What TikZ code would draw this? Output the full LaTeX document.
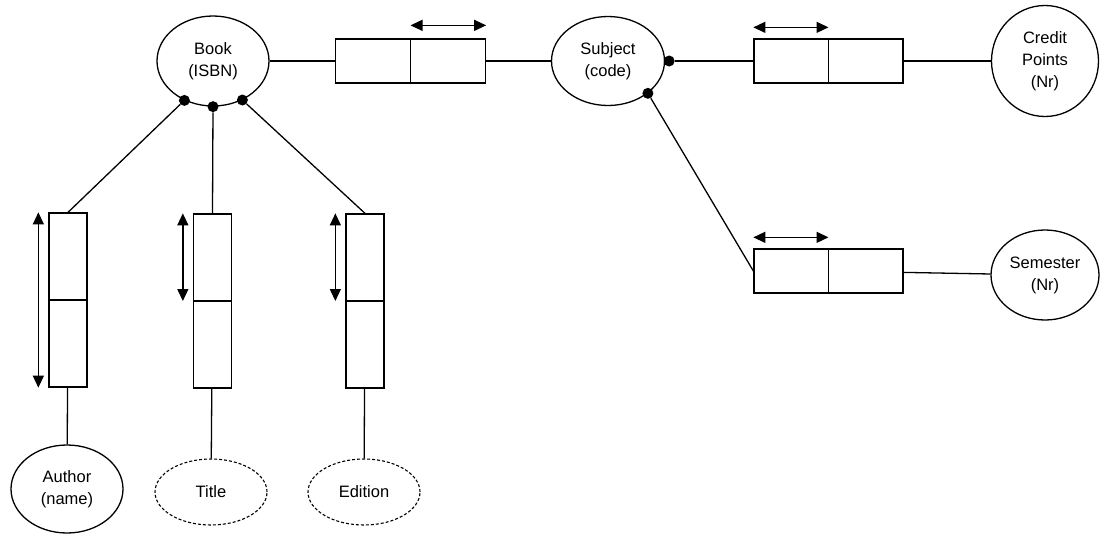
\documentclass[tikz,border=0pt]{standalone}
\usepackage{fontspec}
\setmainfont{Liberation Sans}
\usepackage{tikz}
\usetikzlibrary{shapes.geometric, arrows.meta}
\tikzstyle{attr} = [ellipse, draw=black, line width=1.3pt, inner sep=0pt, minimum width=112pt, minimum height=90pt, align=center, font=\fontsize{16.5}{22}\selectfont]
\tikzstyle{optattr} = [attr, line width=1.1pt, dash pattern=on 3pt off 2pt, minimum height=66pt]
\tikzstyle{hbox} = [rectangle, draw=black, line width=1.3pt, minimum width=150pt, minimum height=44pt]
\tikzstyle{vbox} = [rectangle, draw=black, line width=1.3pt, minimum width=38pt, minimum height=174pt]
\tikzstyle{dot} = [circle, fill=black, inner sep=0pt, minimum size=11pt]
\tikzstyle{conn} = [line width=1.3pt]
\tikzstyle{dbl} = [line width=1.3pt, {Triangle[length=12pt,width=11pt]}-{Triangle[length=12pt,width=11pt]}]

\begin{document}
\begin{tikzpicture}[x=1pt, y=-1pt]
	\useasboundingbox (0,0) rectangle (1100,533);
	% attributes
	\node (book) [attr] at (213,61) {Book\\(ISBN)};
	\node (subject) [attr, minimum width=113pt, minimum height=89pt] at (608,61) {Subject\\(code)};
	\node (credit) [attr, minimum width=107pt, minimum height=111pt] at (1045,61) {Credit\\Points\\(Nr)};
	\node (semester) [attr, minimum width=108pt] at (1045,275) {Semester\\(Nr)};
	\node (author) [attr, minimum height=88pt] at (67,489) {Author\\(name)};
	\node (title) [optattr] at (211,492) {Title};
	\node (edition) [optattr] at (364,492) {Edition};
	% fact boxes
	\node (bookSubj) [hbox] at (410.5,61) {};
	\node (subjCredit) [hbox, minimum width=149pt] at (828.5,61) {};
	\node (subjSem) [hbox, minimum width=149pt] at (828.5,271) {};
	\node (authorBox) [vbox] at (68,300) {};
	\node (titleBox) [vbox] at (212.5,301) {};
	\node (editionBox) [vbox] at (365,301) {};
	\foreach \b in {bookSubj, subjCredit, subjSem}
		\draw [conn] (\b.north) -- (\b.south);
	\foreach \b in {authorBox, titleBox, editionBox}
		\draw [conn] (\b.west) -- (\b.east);
	% dots
	\node (bookD1) [dot] at (book.-126) {};
	\node (bookD2) [dot] at (book.-90) {};
	\node (bookD3) [dot] at (book.-53) {};
	\node (subjD1) [dot] at ([xshift=4pt]subject.east) {};
	\node (subjD2) [dot] at (subject.-39) {};
	% connectors
	\draw [conn] (book) -- (bookSubj);
	\draw [conn] (bookSubj) -- (subject);
	\draw [conn] (subjD1) -- (subjCredit);
	\draw [conn] (subjCredit) -- (credit);
	\draw [conn] (subjD2) -- (subjSem.west);
	\draw [conn] (subjSem) -- (semester);
	\draw [conn] (bookD1) -- (authorBox.north);
	\draw [conn] (bookD2) -- (titleBox.north);
	\draw [conn] (bookD3) -- (editionBox.north);
	\draw [conn] (authorBox) -- (author);
	\draw [conn] (titleBox) -- (title);
	\draw [conn] (editionBox) -- (edition);
	% uniqueness arrows
	\draw [dbl] ([yshift=13pt]bookSubj.north) -- ([yshift=13pt]bookSubj.north east);
	\draw [dbl] ([yshift=11pt]subjCredit.north west) -- ([yshift=11pt]subjCredit.north);
	\draw [dbl] ([yshift=11pt]subjSem.north west) -- ([yshift=11pt]subjSem.north);
	\draw [dbl] ([xshift=-10pt]authorBox.north west) -- ([xshift=-10pt]authorBox.south west);
	\draw [dbl] ([xshift=-10pt]titleBox.north west) -- ([xshift=-10pt]titleBox.west);
	\draw [dbl] ([xshift=-10pt]editionBox.north west) -- ([xshift=-10pt]editionBox.west);
\end{tikzpicture}
\end{document}
